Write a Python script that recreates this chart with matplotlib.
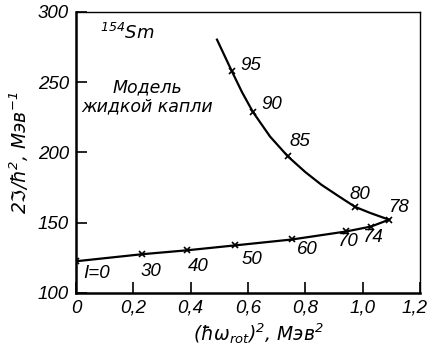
import numpy as np
import matplotlib
matplotlib.use("Agg")
import matplotlib.pyplot as plt
import matplotlib.transforms as mtransforms

# ground band of 154Sm: (hbar*omega_rot)^2 vs 2J/hbar^2
spin_low = [0, 30, 40, 50, 60, 70, 74, 78]
w2_low = [0.0, 0.230, 0.387, 0.555, 0.753, 0.942, 1.029, 1.092]
j_low = [122.5, 127.5, 130.3, 133.8, 138.0, 143.7, 147.2, 152.1]

# back-bending branch, liquid drop model
spin_up = [95, 90, 85, 80]
w2_up = [0.544, 0.617, 0.739, 0.973]
j_up = [257.7, 228.9, 197.2, 161.3]

# traced curve of the upper branch (end of line to the 78 point)
curve_w2 = [0.492, 0.544, 0.579, 0.617, 0.677, 0.739, 0.800, 0.856, 0.915, 0.973, 1.025, 1.092]
curve_j = [280.3, 257.7, 243.0, 228.9, 211.3, 197.2, 186.0, 177.0, 169.0, 161.3, 157.0, 152.1]

xticks = [0, 0.2, 0.4, 0.6, 0.8, 1.0, 1.2]
xticklabels = ["0", "0,2", "0,4", "0,6", "0,8", "1,0", "1,2"]
yticks = [100, 150, 200, 250, 300]

plt.rcParams["font.family"] = ["DejaVu Sans"]
plt.rcParams["font.style"] = "italic"
plt.rcParams["mathtext.fontset"] = "dejavusans"
num_font = ["Liberation Sans", "DejaVu Sans"]

fig = plt.figure(figsize=(4.29, 3.52), dpi=100)
ax = fig.add_axes([0.177, 0.168, 0.802, 0.798])

ax.plot(w2_low, j_low, color="black", lw=1.6, marker="x", ms=5, mew=1.2)
ax.plot(curve_w2, curve_j, color="black", lw=1.6)
ax.plot(w2_up, j_up, ls="none", color="black", marker="x", ms=5, mew=1.2)

# spin labels: offsets in pixels from the marker to the label's top-left
px = 0.72
low_offsets = [(7, -4), (-1, -9), (1, -8), (7, -6), (5, -2), (-9, -2), (-9, -2), (-1, 21)]
for s, x, y, (dx, dy) in zip(spin_low, w2_low, j_low, low_offsets):
    txt = "I=0" if s == 0 else str(s)
    ax.annotate(txt, (x, y), xytext=(dx * px, dy * px), textcoords="offset points",
                fontsize=13.5, family=num_font, va="top", ha="left")
up_offsets = [(8, 14), (9, 16), (2, 23), (-5, 21)]
for s, x, y, (dx, dy) in zip(spin_up, w2_up, j_up, up_offsets):
    ax.annotate(str(s), (x, y), xytext=(dx * px, dy * px), textcoords="offset points",
                fontsize=13.5, family=num_font, va="top", ha="left")

ax.text(0.085, 281, "$^{154}$Sm", fontsize=13)
ax.text(0.25, 243, "Модель", fontsize=12.5, ha="center")
ax.text(0.25, 229, "жидкой капли", fontsize=12.5, ha="center")

ax.set_xlim(0, 1.2)
ax.set_ylim(100, 300)
ax.set_xticks(xticks)
ax.set_xticklabels(xticklabels)
ax.set_yticks(yticks)
ax.tick_params(direction="in", length=8, width=1.2, labelsize=13.5, pad=5)
for lab in ax.get_xticklabels() + ax.get_yticklabels():
    lab.set_family(num_font)
# keep the last x label inside the figure
last = ax.get_xticklabels()[-1]
last.set_transform(last.get_transform() +
                   mtransforms.ScaledTranslation(-5 / 100, 0, fig.dpi_scale_trans))

ax.set_xlabel("(ħω$_{\\mathregular{rot}}$)$^2$, Мэв$^2$", fontsize=13.5, labelpad=2)
ax.xaxis.set_label_coords(0.53, -0.1)
ax.set_ylabel("2ℑ/ħ$^2$, Мэв$^{-1}$", fontsize=13.5, labelpad=5)

ax.spines["left"].set_linewidth(1.8)
ax.spines["bottom"].set_linewidth(1.8)
ax.spines["top"].set_linewidth(1.0)
ax.spines["right"].set_linewidth(1.0)

fig.savefig("out.png", dpi=100)
